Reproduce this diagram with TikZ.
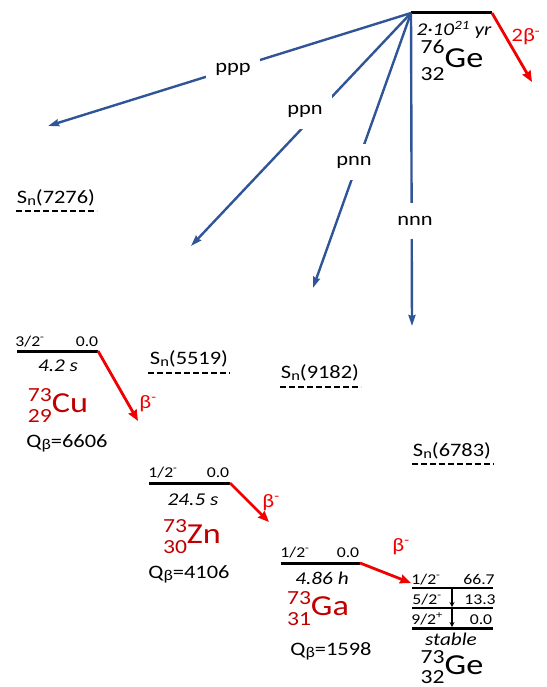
\documentclass[tikz,border=0pt]{standalone}
\usepackage{fontspec}
\setmainfont{Carlito}[FakeStretch=1.18]
\usetikzlibrary{arrows.meta}
\definecolor{blu}{RGB}{47,85,151}
\definecolor{brd}{RGB}{240,0,0}
\definecolor{drd}{RGB}{192,0,0}
\newcommand\fs[1]{\fontsize{#1}{#1}\selectfont}
% #1 mass, #2 charge, #3 symbol, #4 raise, #5 drop
\newcommand\nuc[5]{\setbox0\hbox{\fs{20}#1}\setbox2\hbox{\fs{20}#2}%
  \dimen0=\wd0 \ifdim\wd2>\dimen0 \dimen0=\wd2 \fi
  \hbox to\dimen0{\hss\raisebox{#4}{\copy0}}\kern-\dimen0
  \hbox to\dimen0{\hss\raisebox{-#5}{\copy2}}{\fs{29}#3}}
\newcommand\Sn[1]{S\raisebox{-2.5pt}{\fs{14}n}(#1)}
\newcommand\Qb[1]{Q\raisebox{-2pt}{\fs{15}β}=#1}
\begin{document}
\begin{tikzpicture}[x=1pt,y=-1pt,
  barr/.style={blu,line width=2.4pt,-{Stealth[length=11pt,width=7pt,inset=1pt]}},
  rarr/.style={brd,line width=2.8pt,-{Stealth[length=11pt,width=9pt,inset=1pt]}},
  karr/.style={black,line width=1.3pt,-{Stealth[length=5pt,width=5pt]}},
  lvl/.style={black,line width=3pt},
  thin lvl/.style={black,line width=2pt},
  snl/.style={black,line width=1.8pt,dash pattern=on 6pt off 3pt},
  lab/.style={font=\fs{19},inner sep=0pt,anchor=base},
  blab/.style={font=\fs{19},fill=white,inner xsep=9pt,minimum height=36pt},
  small/.style={font=\fs{15},inner sep=0pt,anchor=base},
  half/.style={font=\fs{18}\itshape,inner sep=0pt,anchor=base},
  nucl/.style={inner sep=0pt,anchor=base}]
\useasboundingbox (0,0) rectangle (546,687);
% Ge-76
\coordinate (g76a) at (411,13); \coordinate (g76b) at (492,13);
\draw[lvl] (g76a) -- (g76b);
\node[half] (g76t) at (454,36) {2·10\textsuperscript{21} yr};
\node[nucl] (g76n) at (452,68) {\nuc{76}{32}{Ge}{14pt}{13pt}};
\coordinate (bb) at (532,82);
\draw[rarr] (g76b) -- (bb);
\node[lab,text=brd] (bbl) at (526,42) {2β\textsuperscript{-}};
% blue arrows
\coordinate (pppE) at (48,126);
\coordinate (ppnE) at (191,246);
\coordinate (pnnE) at (313,288);
\coordinate (nnnE) at (412,326);
\draw[barr] (g76a) -- (pppE);
\draw[barr] (g76a) -- (ppnE);
\draw[barr] (g76a) -- (pnnE);
\draw[barr] (g76a) -- (nnnE);
\node[blab] (ppp) at (233,69) {ppp};
\node[blab] (ppn) at (305,111) {ppn};
\node[blab] (pnn) at (354,162) {pnn};
\node[blab] (nnn) at (415,221) {nnn};
% Sn labels
\node[lab] (sn1) at (56,203) {\Sn{7276}};
\draw[snl] (16,211) -- (97,211);
\node[lab] (sn2) at (189,364) {\Sn{5519}};
\draw[snl] (148,373) -- (230,373);
\node[lab] (sn3) at (320,378) {\Sn{9182}};
\draw[snl] (280,387) -- (361,387);
\node[lab] (sn4) at (452,456) {\Sn{6783}};
\draw[snl] (412,464) -- (494,464);
% Cu
\coordinate (cua) at (17,351); \coordinate (cub) at (98,351);
\draw[lvl] (cua) -- (cub);
\node[small] (cuj) at (30,346) {3/2\textsuperscript{-}};
\node[small] (cue) at (87,346) {0.0};
\node[half] (cut) at (58,371) {4.2 s};
\node[nucl,text=drd] (cun) at (58,412) {\nuc{73}{29}{Cu}{11pt}{10pt}};
\node[lab] (cuq) at (67,447) {\Qb{6606}};
\coordinate (cuE) at (138,421);
\draw[rarr] (cub) -- (cuE);
\node[lab,text=brd] (cul) at (148,408) {β\textsuperscript{-}};
% Zn
\coordinate (zna) at (149,483); \coordinate (znb) at (230,483);
\draw[lvl] (zna) -- (znb);
\node[small] (znj) at (163,477) {1/2\textsuperscript{-}};
\node[small] (zne) at (218,477) {0.0};
\node[half] (znt) at (193,505) {24.5 s};
\node[nucl,text=drd] (znn) at (192,543) {\nuc{73}{30}{Zn}{11pt}{10pt}};
\node[lab] (znq) at (189,578) {\Qb{4106}};
\coordinate (znE) at (269,522);
\draw[rarr] (znb) -- (znE);
\node[lab,text=brd] (znl) at (271,507) {β\textsuperscript{-}};
% Ga
\coordinate (gaa) at (281,563); \coordinate (gab) at (360,563);
\draw[lvl] (gaa) -- (gab);
\node[small] (gaj) at (295,557) {1/2\textsuperscript{-}};
\node[small] (gae) at (348,557) {0.0};
\node[half] (gat) at (322,584) {4.86 h};
\node[nucl,text=drd] (gan) at (318,615) {\nuc{73}{31}{Ga}{11pt}{10pt}};
\node[lab] (gaq) at (331,655) {\Qb{1598}};
\coordinate (gaE) at (411,583);
\draw[rarr] (gab) -- (gaE);
\node[lab,text=brd] (gal) at (401,551) {β\textsuperscript{-}};
% Ge-73
\coordinate (l1a) at (412,588); \coordinate (l1b) at (493,588);
\coordinate (l2a) at (412,608); \coordinate (l2b) at (493,608);
\coordinate (l3a) at (412,628); \coordinate (l3b) at (493,628);
\draw[thin lvl] (l1a) -- (l1b);
\draw[thin lvl] (l2a) -- (l2b);
\draw[lvl] (l3a) -- (l3b);
\node[small] (j1) at (426,584) {1/2\textsuperscript{-}};
\node[small] (e1) at (479,584) {66.7};
\node[small] (j2) at (427,604) {5/2\textsuperscript{-}};
\node[small] (e2) at (480,604) {13.3};
\node[small] (j3) at (427,624) {9/2\textsuperscript{+}};
\node[small] (e3) at (481,624) {0.0};
\coordinate (t1) at (452,589); \coordinate (t2) at (452,607);
\coordinate (t3) at (452,609); \coordinate (t4) at (452,627);
\draw[karr] (t1) -- (t2);
\draw[karr] (t3) -- (t4);
\node[half] (ges) at (451,645) {stable};
\node[nucl] (gen) at (452,674) {\nuc{73}{32}{Ge}{11pt}{9pt}};
\end{tikzpicture}
\end{document}
